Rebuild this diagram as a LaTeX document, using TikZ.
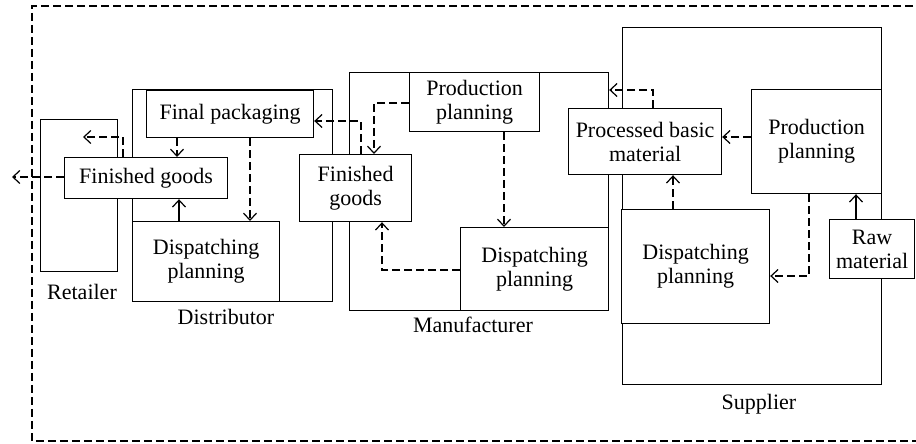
\documentclass[tikz,border=0pt]{standalone}
\usepackage{fontspec}
\setmainfont{Liberation Serif}
\usepackage{tikz}
\usetikzlibrary{arrows.meta}

\tikzset{
  wh/.style 2 args={minimum width={#1*0.5pt}, minimum height={#2*0.5pt}},
  stage/.style={draw, line width=0.6pt, inner sep=0pt, anchor=north west},
  unit/.style={stage, fill=white, align=center},
  flow/.style={line width=0.6pt, dash pattern=on 4pt off 2pt, -{Straight Barb[length=3.5pt,width=6.5pt]}},
  push/.style={line width=0.6pt, -{Straight Barb[length=3.5pt,width=6.5pt]}}
}

\begin{document}
\begin{tikzpicture}[x=0.5pt,y=-0.5pt,font=\fontsize{11}{12}\selectfont]
\clip (0,0) rectangle (916,444);

% Supply chain border
\draw[line width=0.6pt,dash pattern=on 4pt off 2pt] (925,6) -| (32,441) -- (925,441);

% Stages
\node[stage,wh={77}{152}] (retailer) at (40,119) {};
\node at (82,292) {Retailer};
\node[stage,wh={200}{212}] (distrib) at (132,89) {};
\node at (226,317) {Distributor};
\node[stage,wh={259}{238}] (manuf) at (349,72) {};
\node at (473,325) {Manufacturer};
\node[stage,wh={259}{357}] (supplier) at (622,27) {};
\node at (759,404) {Supplier};

% Distributor
\node[unit,wh={167}{47}] (packD) at (146,90) {Final packaging};
\node[unit,wh={163}{41}] (goodsD) at (64,157) {Finished goods};
\node[unit,wh={147}{80}] (dispD) at (132,221) {Dispatching\\planning};

% Manufacturer
\node[unit,wh={130}{59}] (prodM) at (409,72) {Production\\planning};
\node[unit,wh={112}{67}] (goodsM) at (299,154) {Finished\\goods};
\node[unit,wh={148}{83}] (dispM) at (460,227) {Dispatching\\planning};

% Supplier
\node[unit,wh={153}{66}] (matS) at (568,108) {Processed basic\\material};
\node[unit,wh={130}{104}] (prodS) at (751,89) {Production\\planning};
\node[unit,wh={148}{114}] (dispS) at (621,209) {Dispatching\\planning};
\node[unit,wh={85}{59}] (rawS) at (829,219) {Raw\\material};

% Free ends
\coordinate (outC) at (12,177);
\coordinate (retIn) at (83,137);

% Flows at the retailer and distributor
\draw[flow] (goodsD.west |- 0,177) -- (outC);
\draw[flow] (goodsD.north -| 123,0) |- (retIn);
\draw[flow] (packD.south -| 177,0) -- (goodsD.north -| 177,0);
\draw[flow] (packD.south -| 250,0) -- (dispD.north -| 250,0);
\draw[push] (dispD.north -| 179,0) -- (goodsD.south -| 179,0);

% Flows at the manufacturer
\draw[flow] (goodsM.north -| 361,0) |- (packD.east |- 0,121);
\draw[flow] (prodM.west |- 0,103) -| (goodsM.north -| 374,0);
\draw[flow] (prodM.south -| 504,0) -- (dispM.north -| 504,0);
\draw[flow] (dispM.west |- 0,270) -| (goodsM.south -| 382,0);

% Flows at the supplier
\draw[flow] (matS.north -| 653,0) |- (manuf.east |- 0,90);
\draw[flow] (prodS.west |- 0,137) -- (matS.east |- 0,137);
\draw[flow] (dispS.north -| 673,0) -- (matS.south -| 673,0);
\draw[flow] (prodS.south -| 809,0) |- (dispS.east |- 0,276);
\draw[push] (rawS.north -| 856,0) -- (prodS.south -| 856,0);
\end{tikzpicture}
\end{document}
